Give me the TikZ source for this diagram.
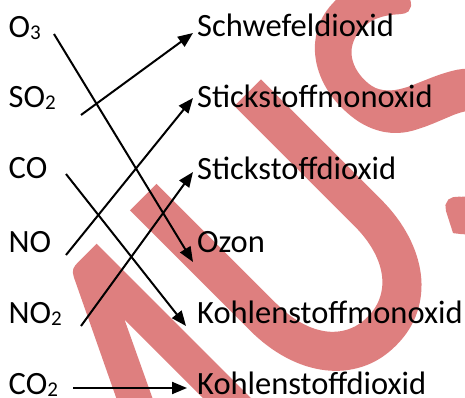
\documentclass[tikz,border=0pt]{standalone}
\usepackage{fontspec}
\setmainfont{Carlito}
\usetikzlibrary{arrows.meta}
\definecolor{wm}{RGB}{222,127,127}
\font\wmfnt="Carlito:embolden=1.7" at 355pt
\newcommand{\subsc}[1]{\raisebox{-2pt}{\fontsize{21}{21}\selectfont #1}}
\begin{document}
\begin{tikzpicture}[x=1pt,y=-1pt,
  lbl/.style={anchor=base west, inner sep=0pt, font=\fontsize{32.5}{36}\selectfont},
  conn/.style={line width=2pt, -{Triangle[length=15pt,width=12pt]}}]
\useasboundingbox (0,0) rectangle (465,398);
\begin{scope}
\clip (0,0) rectangle (465,398);
\node[rotate=45, anchor=base west, inner sep=0pt, text=wm] (wm) at (96,636)
  {\scalebox{1}[1.2]{\wmfnt MUSTER}};
\end{scope}
% left labels
\node[lbl] (o3)  at (8.5,38)  {O\subsc{3}};
\node[lbl] (so2) at (8.5,108) {SO\subsc{2}};
\node[lbl] (co)  at (8.5,178) {CO};
\node[lbl] (no)  at (8.5,252) {NO};
\node[lbl] (no2) at (8.5,323) {NO\subsc{2}};
\node[lbl] (co2) at (8.5,394) {CO\subsc{2}};
% right labels
\node[lbl] (schw)  at (197,37)  {Schwefeldioxid};
\node[lbl] (smono) at (197,108) {Stickstoffmonoxid};
\node[lbl] (sdi)   at (197,179) {Stickstoffdioxid};
\node[lbl] (ozon)  at (197,252) {Ozon};
\node[lbl] (kmono) at (197,323) {Kohlenstoffmonoxid};
\node[lbl] (kdi)   at (197,394) {Kohlenstoffdioxid};
% connector ends
\coordinate (o3s) at (54,34);   \coordinate (ozone) at (193,262);
\coordinate (so2s) at (81,115); \coordinate (schwe) at (193,33);
\coordinate (cos) at (66,174);  \coordinate (kmonoe) at (186,326);
\coordinate (nos) at (66,255);  \coordinate (smonoe) at (193,98);
\coordinate (no2s) at (81,326); \coordinate (sdie) at (193,172);
\coordinate (co2s) at (73,388); \coordinate (kdie) at (187,388);
\draw[conn] (o3s) -- (ozone);
\draw[conn] (so2s) -- (schwe);
\draw[conn] (cos) -- (kmonoe);
\draw[conn] (nos) -- (smonoe);
\draw[conn] (no2s) -- (sdie);
\draw[conn] (co2s) -- (kdie);
\end{tikzpicture}
\end{document}
